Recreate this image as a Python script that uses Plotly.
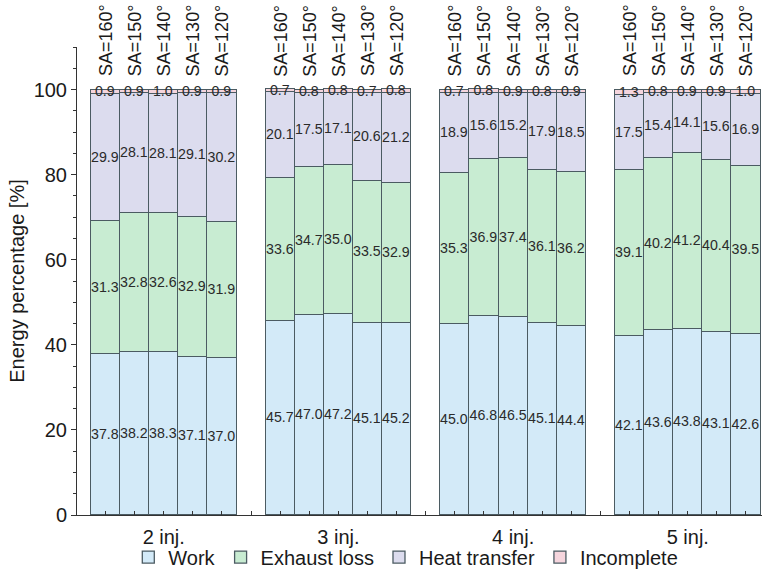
import plotly.graph_objects as go

groups = ["2 inj.", "3 inj.", "4 inj.", "5 inj."]
angles = ["SA=160°", "SA=150°", "SA=140°", "SA=130°", "SA=120°"]

work = [37.8, 38.2, 38.3, 37.1, 37.0,
        45.7, 47.0, 47.2, 45.1, 45.2,
        45.0, 46.8, 46.5, 45.1, 44.4,
        42.1, 43.6, 43.8, 43.1, 42.6]
exhaust = [31.3, 32.8, 32.6, 32.9, 31.9,
           33.6, 34.7, 35.0, 33.5, 32.9,
           35.3, 36.9, 37.4, 36.1, 36.2,
           39.1, 40.2, 41.2, 40.4, 39.5]
heat = [29.9, 28.1, 28.1, 29.1, 30.2,
        20.1, 17.5, 17.1, 20.6, 21.2,
        18.9, 15.6, 15.2, 17.9, 18.5,
        17.5, 15.4, 14.1, 15.6, 16.9]
incomplete = [0.9, 0.9, 1.0, 0.9, 0.9,
              0.7, 0.8, 0.8, 0.7, 0.8,
              0.7, 0.8, 0.9, 0.8, 0.9,
              1.3, 0.8, 0.9, 0.9, 1.0]

series = [("Work", work, "#d3eaf8"),
          ("Exhaust loss", exhaust, "#c8ecd2"),
          ("Heat transfer", heat, "#dcdcee"),
          ("Incomplete", incomplete, "#f5d5dd")]

FONT = "Liberation Sans"

n_per = len(angles)
xpos = [g * (n_per + 1) + i for g in range(len(groups)) for i in range(n_per)]
group_centers = [g * (n_per + 1) + (n_per - 1) / 2 for g in range(len(groups))]

fig = go.Figure()
for name, vals, col in series:
    fig.add_trace(go.Bar(
        x=xpos, y=vals, name=name, width=1.0,
        marker=dict(color=col, line=dict(color="#4b5b62", width=1.3)),
        text=[f"{v:.1f}" for v in vals],
        textposition="inside", insidetextanchor="middle",
        textangle=0, constraintext="none",
        textfont=dict(size=14.2, color="#2a2a2a", family=FONT),
    ))

for x, lab in zip(xpos, angles * len(groups)):
    fig.add_annotation(x=x, y=100, xref="x", yref="y", text=lab, textangle=-90,
                       showarrow=False, yanchor="bottom", xanchor="center", yshift=11,
                       font=dict(size=18, color="#1a1a1a", family=FONT))

fig.update_layout(
    width=765, height=572,
    margin=dict(l=77, r=3, t=47, b=57, autoexpand=False),
    barmode="stack", bargap=0,
    plot_bgcolor="white", paper_bgcolor="white",
    font=dict(family=FONT, color="#1a1a1a"),
    showlegend=True,
    legend=dict(orientation="h", x=0.48, xanchor="center", y=-0.09, yanchor="middle",
                font=dict(size=20, family=FONT), traceorder="normal", itemwidth=30,
                bgcolor="rgba(0,0,0,0)"),
    xaxis=dict(range=[-0.98, 22.55], showgrid=False, zeroline=False,
               showline=True, linecolor="#333", linewidth=1,
               tickmode="array", tickvals=group_centers, ticktext=groups,
               ticks="inside", ticklen=4, tickcolor="#333",
               tickfont=dict(size=20, family=FONT), ticklabelstandoff=4,
               minor=dict(tickmode="array", tickvals=list(range(0, 23)),
                          ticks="inside", ticklen=4, tickcolor="#333")),
    yaxis=dict(range=[0, 110], showgrid=False, zeroline=False,
               showline=True, linecolor="#333", linewidth=1,
               tickvals=[0, 20, 40, 60, 80, 100],
               ticks="outside", ticklen=5, tickcolor="#333",
               tickfont=dict(size=20, family=FONT),
               minor=dict(dtick=5, ticks="outside", ticklen=3, tickcolor="#333"),
               title=dict(text="Energy percentage [%]", font=dict(size=20, family=FONT), standoff=3)),
)

fig.write_html("out.html")
